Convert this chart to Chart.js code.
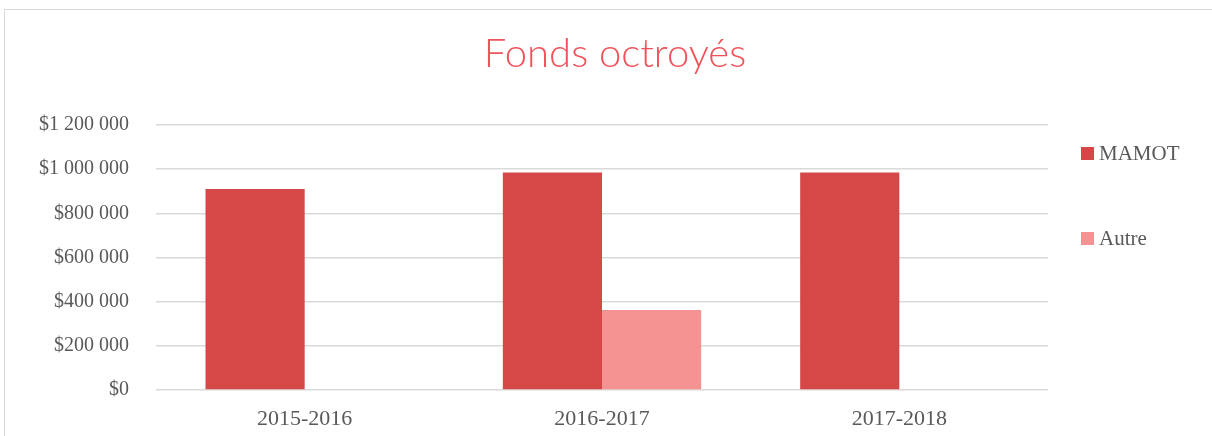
<!DOCTYPE html>
<html>
<head>
<meta charset="utf-8">
<script src="https://cdn.jsdelivr.net/npm/chart.js@4.4.1/dist/chart.umd.min.js"></script>
<style>
  html, body { margin: 0; padding: 0; background: #fff; overflow: hidden; }
  #frame { position: absolute; left: 4px; top: 9px; width: 1300px; height: 600px; border-left: 1px solid #d9d9d9; border-top: 1px solid #d9d9d9; }
  #wrap { position: absolute; left: 0; top: 0; width: 1212px; height: 436px; }
</style>
</head>
<body>
<div id="frame"></div>
<div id="wrap"><canvas id="c" width="1212" height="436"></canvas></div>
<script>
const chartTitle = 'Fonds octroyés';
const categories = ['2015-2016', '2016-2017', '2017-2018'];
const seriesNames = ['MAMOT', 'Autre'];
const mamotValues = [910000, 985000, 985000];
const autreValues = [0, 362000, 0];
const seriesColors = ['#D64747', '#F59393'];
const yTickMax = 1200000;
const yTickStep = 200000;

function fmtMoney(v) {
  return '$' + String(Math.round(v)).replace(/\B(?=(\d{3})+(?!\d))/g, ' ');
}

const decorPlugin = {
  id: 'decor',
  afterDraw(chart) {
    const ctx = chart.ctx;
    ctx.save();
    // title
    ctx.fillStyle = '#F0525A';
    ctx.font = '300 40px Lato, "Open Sans", sans-serif';
    ctx.textAlign = 'center';
    ctx.textBaseline = 'alphabetic';
    ctx.fillText(chartTitle, 615, 67);
    // legend
    const items = [
      { y: 147 }, { y: 232 }
    ];
    chart.data.datasets.forEach((ds, i) => {
      const it = items[i];
      ctx.fillStyle = ds.backgroundColor;
      ctx.fillRect(1081, it.y, 13, 13);
      ctx.fillStyle = '#595959';
      ctx.font = '21px "Liberation Serif", serif';
      ctx.textAlign = 'left';
      ctx.textBaseline = 'alphabetic';
      ctx.fillText(ds.label, 1099, it.y + 13);
    });
    ctx.restore();
  }
};

new Chart(document.getElementById('c'), {
  type: 'bar',
  data: {
    labels: categories,
    datasets: [
      { label: seriesNames[0], data: mamotValues, backgroundColor: seriesColors[0] },
      { label: seriesNames[1], data: autreValues, backgroundColor: seriesColors[1] }
    ]
  },
  plugins: [decorPlugin],
  options: {
    responsive: false,
    animation: false,
    layout: { padding: { top: 125, right: 164, bottom: 6, left: 0 } },
    datasets: { bar: { categoryPercentage: 0.667, barPercentage: 1.0 } },
    plugins: {
      legend: { display: false },
      title: { display: false },
      tooltip: { enabled: false }
    },
    scales: {
      x: {
        afterFit(scale) { scale.height = 40; },
        grid: { display: false },
        border: { display: false },
        ticks: {
          color: '#595959',
          font: { family: '"Liberation Serif", serif', size: 22 },
          padding: 8
        }
      },
      y: {
        min: 0,
        max: yTickMax,
        afterFit(scale) { scale.width = 156; },
        border: { display: false },
        grid: { color: '#d9d9d9', lineWidth: 1.5, drawTicks: false },
        ticks: {
          stepSize: yTickStep,
          color: '#595959',
          font: { family: '"Liberation Serif", serif', size: 20 },
          padding: 27,
          callback: (v) => fmtMoney(v)
        }
      }
    }
  }
});
</script>
</body>
</html>
